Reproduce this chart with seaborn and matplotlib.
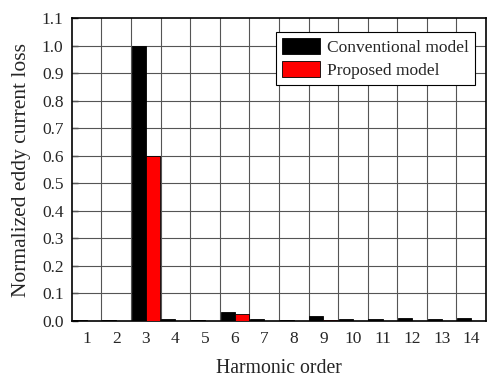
import matplotlib
matplotlib.use("Agg")
import matplotlib.pyplot as plt
import seaborn as sns
import pandas as pd
import numpy as np

orders = [1, 2, 3, 4, 5, 6, 7, 8, 9, 10, 11, 12, 13, 14]
conventional = [0.005, 0.003, 1.0, 0.006, 0.005, 0.032, 0.006, 0.005, 0.018, 0.006, 0.008, 0.009, 0.007, 0.010]
proposed = [0.001, 0.001, 0.60, 0.001, 0.001, 0.025, 0.001, 0.001, 0.002, 0.001, 0.001, 0.001, 0.001, 0.001]
series = ["Conventional model", "Proposed model"]
colors = ["#000000", "#ff0000"]

df = pd.DataFrame({
    "order": [str(o) for o in orders] * 2,
    "loss": conventional + proposed,
    "model": [series[0]] * len(orders) + [series[1]] * len(orders),
})

sns.set_style("white")
plt.rcParams["font.family"] = ["Liberation Serif", "DejaVu Serif"]

fig = plt.figure(figsize=(4.89, 3.78), dpi=100)
ax = fig.add_axes([0.147, 0.151, 0.847, 0.801])

sns.barplot(data=df, x="order", y="loss", hue="model", palette=colors,
            saturation=1, width=0.95, edgecolor="black", linewidth=0.6,
            ax=ax, zorder=3)

ax.set_xlim(-0.5, 13.5)
ax.set_ylim(0, 1.1)
yt = np.round(np.arange(0, 1.11, 0.1), 1)
ax.set_yticks(yt)
ax.set_yticklabels([f"{v:.1f}" for v in yt], fontsize=12.5)
ax.tick_params(axis="x", labelsize=12.5, length=0, pad=7)
ax.tick_params(axis="y", direction="in", length=4, width=1, pad=6, left=True)

for xv in np.arange(0.5, 13.5, 1.0):
    ax.axvline(xv, color="#555555", lw=0.8, zorder=1)
for yv in np.arange(0.1, 1.1, 0.1):
    ax.axhline(yv, color="#555555", lw=0.8, zorder=1)

for s in ax.spines.values():
    s.set_color("black")
    s.set_linewidth(1.2)

ax.set_xlabel("Harmonic order", fontsize=14.2, labelpad=9)
ax.set_ylabel("Normalized eddy current loss", fontsize=15.5, labelpad=8)

leg = ax.legend(loc="upper right", fontsize=12.5, frameon=True, fancybox=False,
                edgecolor="black", framealpha=1, handlelength=2.2, handleheight=1.0,
                borderpad=0.35, labelspacing=0.3, handletextpad=0.4,
                borderaxespad=0, bbox_to_anchor=(0.973, 0.953))
leg.get_frame().set_linewidth(0.8)

fig.savefig("out.png", dpi=100)
